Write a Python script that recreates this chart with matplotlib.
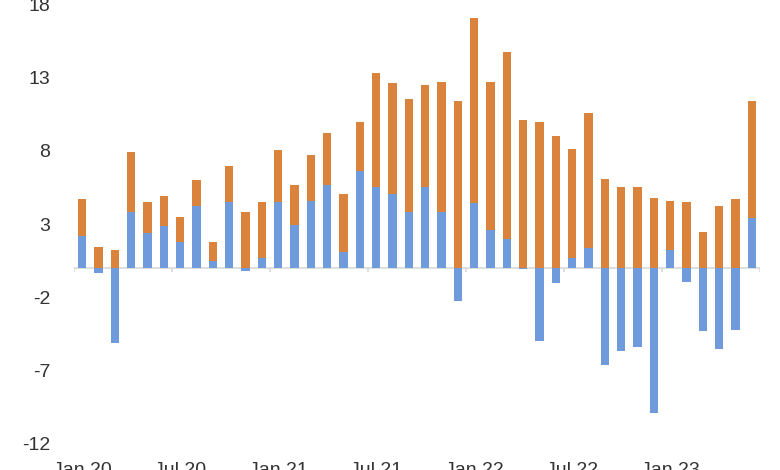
import numpy as np
import matplotlib
matplotlib.use("Agg")
import matplotlib.pyplot as plt

plt.rcParams['font.family'] = ['Liberation Sans', 'DejaVu Sans']
plt.rcParams['axes.unicode_minus'] = False

# monthly, Jan 20 .. Jun 23
months = ['Jan 20', 'Feb 20', 'Mar 20', 'Apr 20', 'May 20', 'Jun 20',
          'Jul 20', 'Aug 20', 'Sep 20', 'Oct 20', 'Nov 20', 'Dec 20',
          'Jan 21', 'Feb 21', 'Mar 21', 'Apr 21', 'May 21', 'Jun 21',
          'Jul 21', 'Aug 21', 'Sep 21', 'Oct 21', 'Nov 21', 'Dec 21',
          'Jan 22', 'Feb 22', 'Mar 22', 'Apr 22', 'May 22', 'Jun 22',
          'Jul 22', 'Aug 22', 'Sep 22', 'Oct 22', 'Nov 22', 'Dec 22',
          'Jan 23', 'Feb 23', 'Mar 23', 'Apr 23', 'May 23', 'Jun 23']

blue = [2.2, -0.35, -5.15, 3.8, 2.35, 2.85, 1.75, 4.25, 0.45, 4.5, -0.25, 0.65,
        4.5, 2.9, 4.6, 5.65, 1.05, 6.6, 5.5, 5.05, 3.85, 5.5, 3.85, -2.25,
        4.45, 2.6, 1.95, -0.1, -5.0, -1.05, 0.65, 1.35, -6.65, -5.7, -5.45, -9.95,
        1.25, -0.95, -4.35, -5.55, -4.25, 3.4]
orange = [2.5, 1.4, 1.2, 4.1, 2.15, 2.1, 1.75, 1.75, 1.3, 2.5, 3.8, 3.85,
          3.55, 2.75, 3.1, 3.55, 4.0, 3.4, 7.85, 7.6, 7.7, 7.0, 8.9, 11.45,
          12.65, 10.15, 12.8, 10.15, 10.0, 9.05, 7.5, 9.25, 6.1, 5.5, 5.5, 4.8,
          3.35, 4.5, 2.45, 4.2, 4.7, 8.05]

ticklabels = ['Jan 20', 'Jul 20', 'Jan 21', 'Jul 21', 'Jan 22', 'Jul 22', 'Jan 23']

blue = np.array(blue)
orange = np.array(orange)
x = np.arange(len(months))

fig = plt.figure(figsize=(7.8, 4.7), dpi=100)
ax = fig.add_axes([0.0949, 0.0574, 0.8795, 0.932])

c_blue = '#6f9bdc'
c_orange = '#d9833c'
ax.bar(x, blue, width=0.5, color=c_blue, zorder=2)
ax.bar(x, orange, width=0.5, bottom=np.clip(blue, 0, None), color=c_orange, zorder=2)

ax.set_xlim(-0.5, len(months) - 0.5)
ax.set_ylim(-12, 18)
ax.set_yticks([-12, -7, -2, 3, 8, 13, 18])
ax.tick_params(axis='y', length=0, pad=17, labelsize=14, labelcolor='#333333')

# zero axis line with tick marks between categories
ax.axhline(0, color='#d9d9d9', lw=1.2, zorder=1)
ax.vlines(np.arange(0, len(months) + 1, 6) - 0.5, -0.3, 0, color='#d9d9d9', lw=1.2, zorder=1)

ax.set_xticks(x[::6])
ax.set_xticklabels(ticklabels)
ax.tick_params(axis='x', length=0, pad=14, labelsize=14, labelcolor='#333333')

for s in ax.spines.values():
    s.set_visible(False)

fig.savefig('out.png', dpi=100)
